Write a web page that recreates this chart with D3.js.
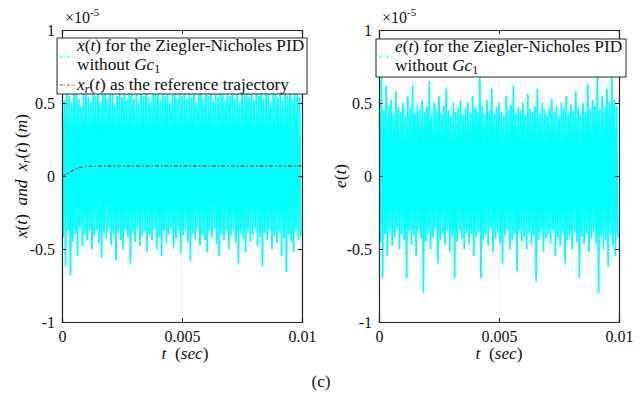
<!DOCTYPE html>
<html><head><meta charset="utf-8">
<script src="https://cdn.jsdelivr.net/npm/d3@7"></script>
<style>body{margin:0;background:#fff}svg{display:block}</style>
</head><body><svg id="c" width="642" height="395"></svg>
<script>
// values in units of 1e-5
const xTicks = [0, 0.005, 0.01];
const xTickLabels = ["0", "0.005", "0.01"];
const yTicks = [-1, -0.5, 0, 0.5, 1];
const yTickLabels = ["-1", "-0.5", "0", "0.5", "1"];

const leftHi = [0.58,0.52,0.6,0.55,0.5,0.57,0.62,0.53,0.48,0.56,0.6,0.54,0.51,0.58,0.55,0.62,0.5,0.56,0.59,0.53,
0.57,0.6,0.49,0.55,0.61,0.54,0.58,0.52,0.56,0.6,0.53,0.57,0.5,0.59,0.55,0.62,0.54,0.51,0.58,0.56,
0.6,0.52,0.57,0.55,0.61,0.5,0.56,0.59,0.53,0.58,0.55,0.6,0.52,0.57,0.54,0.62,0.5,0.56,0.59,0.53,
0.58,0.55,0.61,0.51,0.57,0.54,0.6,0.56,0.52,0.59,0.55,0.62,0.53,0.57,0.5,0.58,0.56,0.6,0.54,0.57,
0.52,0.59,0.55,0.61,0.53,0.57,0.6,0.5,0.56,0.58,0.54,0.6,0.52,0.57,0.55,0.61,0.53,0.58,0.56,0.54];
const leftLo = [-0.42,-0.62,-0.38,-0.68,-0.45,-0.4,-0.55,-0.36,-0.48,-0.4,-0.44,-0.38,-0.5,-0.41,-0.37,-0.46,-0.56,-0.39,-0.43,-0.36,
-0.47,-0.4,-0.58,-0.38,-0.44,-0.5,-0.37,-0.42,-0.6,-0.39,-0.45,-0.36,-0.48,-0.41,-0.38,-0.52,-0.4,-0.44,-0.37,-0.5,
-0.42,-0.55,-0.38,-0.46,-0.4,-0.36,-0.49,-0.43,-0.38,-0.53,-0.41,-0.37,-0.45,-0.58,-0.39,-0.43,-0.36,-0.48,-0.4,-0.44,
-0.52,-0.38,-0.42,-0.36,-0.47,-0.55,-0.4,-0.44,-0.38,-0.5,-0.41,-0.37,-0.46,-0.6,-0.39,-0.43,-0.52,-0.38,-0.45,-0.4,
-0.36,-0.48,-0.42,-0.62,-0.39,-0.44,-0.37,-0.5,-0.41,-0.46,-0.38,-0.55,-0.43,-0.66,-0.4,-0.45,-0.52,-0.38,-0.44,-0.41];
const rightHi = [0.5,0.7,0.45,0.62,0.48,0.52,0.42,0.58,0.47,0.44,0.5,0.41,0.55,0.46,0.62,0.43,0.49,0.45,0.52,0.44,
0.48,0.65,0.42,0.5,0.46,0.55,0.43,0.48,0.6,0.45,0.41,0.5,0.44,0.47,0.52,0.42,0.46,0.5,0.43,0.55,
0.47,0.44,0.7,0.48,0.42,0.52,0.45,0.6,0.43,0.47,0.5,0.44,0.41,0.55,0.46,0.49,0.62,0.43,0.47,0.45,
0.5,0.42,0.56,0.46,0.44,0.48,0.6,0.43,0.5,0.45,0.42,0.47,0.53,0.44,0.48,0.41,0.5,0.46,0.55,0.43,
0.49,0.45,0.58,0.47,0.42,0.5,0.44,0.63,0.46,0.52,0.48,0.7,0.45,0.55,0.47,0.6,0.5,0.72,0.52,0.48];
const rightLo = [-0.45,-0.7,-0.4,-0.55,-0.38,-0.48,-0.42,-0.36,-0.5,-0.4,-0.44,-0.7,-0.38,-0.47,-0.41,-0.55,-0.37,-0.43,-0.8,-0.45,
-0.39,-0.5,-0.42,-0.36,-0.6,-0.44,-0.4,-0.47,-0.38,-0.52,-0.41,-0.7,-0.45,-0.37,-0.43,-0.5,-0.39,-0.46,-0.4,-0.55,
-0.42,-0.38,-0.7,-0.44,-0.4,-0.48,-0.36,-0.52,-0.43,-0.39,-0.46,-0.6,-0.41,-0.37,-0.5,-0.44,-0.4,-0.65,-0.38,-0.45,
-0.42,-0.5,-0.39,-0.47,-0.41,-0.72,-0.44,-0.38,-0.52,-0.43,-0.4,-0.46,-0.37,-0.55,-0.42,-0.48,-0.39,-0.6,-0.44,-0.41,
-0.5,-0.38,-0.45,-0.7,-0.42,-0.47,-0.4,-0.52,-0.43,-0.38,-0.46,-0.8,-0.41,-0.5,-0.44,-0.62,-0.4,-0.48,-0.55,-0.42];
const refT = [0, 0.0002, 0.0004, 0.0006, 0.0008, 0.001, 0.0012, 0.0015, 0.002, 0.004, 0.006, 0.008, 0.01];
const refX = [0, 0.012, 0.033, 0.05, 0.06, 0.065, 0.067, 0.068, 0.069, 0.069, 0.069, 0.069, 0.069];

const FONT = "'Liberation Serif', 'Times New Roman', serif";
const svg = d3.select("#c");
const y = d3.scaleLinear().domain([-1, 1]).range([322, 30]);

function panel(x0, x1, hi, lo, id) {
  const x = d3.scaleLinear().domain([0, 0.01]).range([x0, x1]);
  const g = svg.append("g");
  g.selectAll(".gx").data(xTicks).join("line").attr("x1", d => x(d)).attr("x2", d => x(d)).attr("y1", 30).attr("y2", 322).attr("stroke", "#e8e8e8").attr("stroke-width", 0.6);
  g.selectAll(".gy").data(yTicks).join("line").attr("y1", d => y(d)).attr("y2", d => y(d)).attr("x1", x0).attr("x2", x1).attr("stroke", "#e8e8e8").attr("stroke-width", 0.6);
  g.append("clipPath").attr("id", id).append("rect").attr("x", x0).attr("y", 30).attr("width", x1 - x0).attr("height", 292);
  const n = hi.length, dt = 0.01 / n;
  const pts = [];
  hi.forEach((v, i) => { pts.push([i * dt, v]); pts.push([(i + 0.5) * dt, lo[i]]); });
  g.append("path").attr("clip-path", `url(#${id})`).datum(pts)
    .attr("d", d3.line().x(d => x(d[0])).y(d => y(d[1])))
    .attr("fill", "none").attr("stroke", "#00ffff").attr("stroke-width", 1.8).attr("stroke-linejoin", "miter");
  return {x, g};
}

function axes(x0, x1, x) {
  const g = svg.append("g");
  const ax = d3.axisBottom(x).tickValues(xTicks).tickFormat((d, i) => xTickLabels[i]).tickSize(-4).tickPadding(9);
  g.append("g").attr("transform", "translate(0,322)").call(ax);
  g.append("g").attr("transform", "translate(0,30)").call(d3.axisTop(x).tickValues(xTicks).tickFormat("").tickSize(-4));
  g.append("g").attr("transform", `translate(${x0},0)`).call(d3.axisLeft(y).tickValues(yTicks).tickFormat((d, i) => yTickLabels[i]).tickSize(-4).tickPadding(7));
  g.append("g").attr("transform", `translate(${x1},0)`).call(d3.axisRight(y).tickValues(yTicks).tickFormat("").tickSize(-4));
  g.selectAll(".domain").attr("stroke", "#262626").attr("stroke-width", 1.2);
  g.selectAll(".tick line").attr("stroke", "#262626");
  g.selectAll(".tick text").style("font-family", FONT).style("font-size", "16px").attr("fill", "#111");
  const e = g.append("text").attr("x", x0 + 3).attr("y", 23).style("font-family", FONT).style("font-size", "16px").attr("fill", "#111");
  e.append("tspan").text("×10");
  e.append("tspan").attr("dy", -7).style("font-size", "11px").text("-5");
}

const L = panel(62, 302, leftHi, leftLo, "clipL");
L.g.append("path").datum(refT.map((t, i) => [t, refX[i]]))
  .attr("clip-path", "url(#clipL)")
  .attr("d", d3.line().x(d => L.x(d[0])).y(d => y(d[1])))
  .attr("fill", "none").attr("stroke", "#a8504f").attr("stroke-width", 1.4).attr("stroke-dasharray", "4,2,1.5,2");
axes(62, 302, L.x);

const R = panel(379, 619, rightHi, rightLo, "clipR");
axes(379, 619, R.x);

function legendBox(x, yy, w, h) {
  svg.append("rect").attr("x", x).attr("y", yy).attr("width", w).attr("height", h).attr("fill", "#fff").attr("stroke", "#262626").attr("stroke-width", 1);
}
function addParts(t, parts) {
  parts.forEach(p => {
    const s = t.append("tspan").text(p.t);
    if (p.i) s.style("font-style", "italic");
    if (p.sub) s.style("font-size", "12px").attr("dy", 3);
    if (p.up) s.attr("dy", -3);
  });
}
function mtext(x, yy, parts) {
  const t = svg.append("text").attr("x", x).attr("y", yy).style("font-family", FONT).style("font-size", "17.3px").style("white-space", "pre").attr("fill", "#111");
  addParts(t, parts);
  return t;
}
legendBox(57, 38, 250, 56);
svg.append("line").attr("x1", 60).attr("x2", 75).attr("y1", 57).attr("y2", 57).attr("stroke", "#00ffff").attr("stroke-width", 1).attr("stroke-dasharray", "3,1.5,1,1.5");
svg.append("line").attr("x1", 60).attr("x2", 75).attr("y1", 85).attr("y2", 85).attr("stroke", "#cc3333").attr("stroke-width", 1).attr("stroke-dasharray", "3,1.5,1,1.5");
mtext(77, 51, [{t: "x", i: 1}, {t: "("}, {t: "t", i: 1}, {t: ") for the Ziegler-Nicholes PID"}]);
mtext(77, 70, [{t: "without "}, {t: "Gc", i: 1}, {t: "1", sub: 1}]);
mtext(77, 90, [{t: "x", i: 1}, {t: "r", i: 1, sub: 1}, {t: "(", up: 1}, {t: "t", i: 1}, {t: ") as the reference trajectory"}]);

legendBox(376, 39, 250, 38);
svg.append("line").attr("x1", 379).attr("x2", 393).attr("y1", 57).attr("y2", 57).attr("stroke", "#00ffff").attr("stroke-width", 1).attr("stroke-dasharray", "3,1.5,1,1.5");
mtext(395, 52, [{t: "e", i: 1}, {t: "("}, {t: "t", i: 1}, {t: ") for the Ziegler-Nicholes PID"}]);
mtext(395, 71, [{t: "without "}, {t: "Gc", i: 1}, {t: "1", sub: 1}]);

function ylab(cx, parts) {
  const t = svg.append("text").attr("transform", `translate(${cx},176) rotate(-90)`).attr("text-anchor", "middle").style("font-family", FONT).style("font-size", "17.3px").style("white-space", "pre").attr("fill", "#111");
  addParts(t, parts);
}
ylab(27, [{t: "x", i: 1}, {t: "("}, {t: "t", i: 1}, {t: ")  "}, {t: "and", i: 1}, {t: "  x", i: 1}, {t: "r", i: 1, sub: 1}, {t: "(", up: 1}, {t: "t", i: 1}, {t: ") ("}, {t: "m", i: 1}, {t: ")"}]);
ylab(346, [{t: "e", i: 1}, {t: "("}, {t: "t", i: 1}, {t: ")"}]);

function xlab(cx) {
  const t = svg.append("text").attr("x", cx).attr("y", 359).attr("text-anchor", "middle").style("font-family", FONT).style("font-size", "17.3px").style("white-space", "pre").attr("fill", "#111");
  addParts(t, [{t: "t", i: 1}, {t: "  ("}, {t: "sec", i: 1}, {t: ")"}]);
}
xlab(185); xlab(499);
svg.append("text").attr("x", 321).attr("y", 387).attr("text-anchor", "middle").style("font-family", FONT).style("font-size", "17.3px").attr("fill", "#111").text("(c)");
</script></body></html>
